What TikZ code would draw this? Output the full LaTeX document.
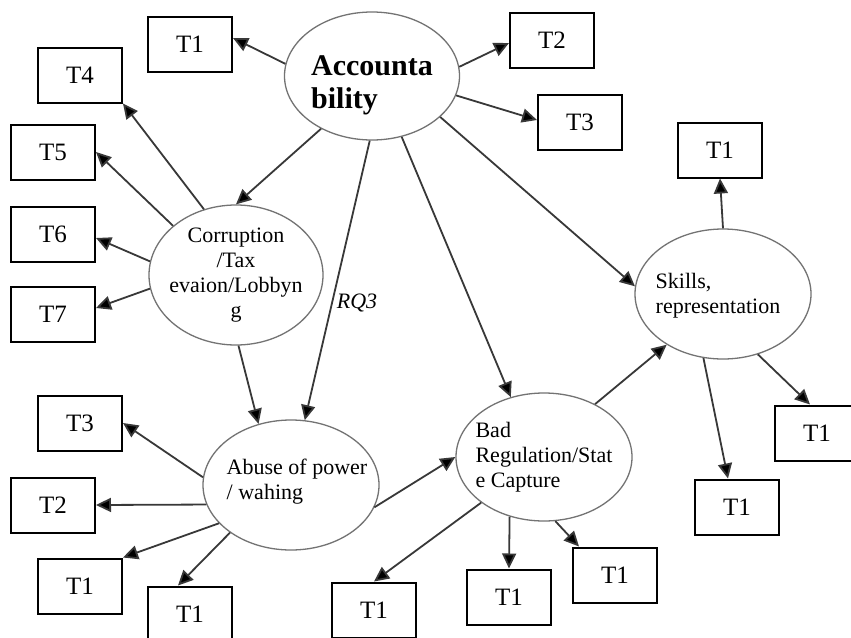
\documentclass[tikz,border=0pt]{standalone}
\usepackage{fontspec}
\setmainfont{Liberation Serif}
\usetikzlibrary{shapes.geometric,arrows.meta}
\begin{document}
\begin{tikzpicture}[x=1pt,y=-1pt,
  tbox/.style={draw=black, line width=2pt, minimum width=84pt, minimum height=55pt, inner sep=0pt, font=\fontsize{25}{28}\selectfont, fill=white},
  ell/.style={draw=black!55, line width=1.3pt, ellipse, inner sep=0pt},
  etext/.style={font=\fontsize{22}{25}\selectfont, align=left, inner sep=0pt},
  arr/.style={draw=black!78, line width=1.8pt, -{Triangle[length=15pt,width=14pt,fill=black]}}]
\useasboundingbox (0,0) rectangle (851,637);
\fill[white] (0,0) rectangle (851,637);
% ellipses
\node[ell, minimum width=175pt, minimum height=128pt,
  label={[etext, font=\fontsize{30}{33}\selectfont\bfseries, yshift=-9pt]center:{Accounta\\bility}}] (acc) at (372,76) {};
\node[ell, minimum width=174pt, minimum height=140pt,
  label={[etext, align=center]center:{Corruption\\/Tax\\evaion/Lobbyn\\g}}] (corr) at (236,275) {};
\node[ell, minimum width=176pt, minimum height=130pt,
  label={[etext, xshift=6pt, yshift=3pt]center:{Abuse of power\\/ wahing}}] (abuse) at (291,485) {};
\node[ell, minimum width=176pt, minimum height=128pt,
  label={[etext]center:{Bad\\Regulation/Stat\\e Capture}}] (bad) at (544,457) {};
\node[ell, minimum width=176pt, minimum height=130pt,
  label={[etext, xshift=-5pt, yshift=-2pt]center:{Skills,\\representation}}] (skills) at (723,294) {};
% boxes
\node[tbox] (a1) at (190,44) {T1};
\node[tbox] (a2) at (552,40) {T2};
\node[tbox] (a3) at (580,122) {T3};
\node[tbox] (s1) at (720,150) {T1};
\node[tbox] (c4) at (80,75) {T4};
\node[tbox] (c5) at (53,152) {T5};
\node[tbox] (c6) at (53,234) {T6};
\node[tbox] (c7) at (53,314) {T7};
\node[tbox] (b3) at (80,423) {T3};
\node[tbox] (b2) at (53,505) {T2};
\node[tbox] (b1) at (80,586) {T1};
\node[tbox] (b1b) at (190,614) {T1};
\node[tbox] (d1) at (374,610) {T1};
\node[tbox] (d2) at (509,597) {T1};
\node[tbox] (d3) at (615,575) {T1};
\node[tbox] (s2) at (737,507) {T1};
\node[tbox] (s3) at (817,433) {T1};
% label
\node[font=\fontsize{22}{25}\selectfont\itshape, inner sep=0pt] (rq) at (357,303) {RQ3};
% arrows from Accountability
\draw[arr] (acc.172) -- ([yshift=6pt]a1.east);
\draw[arr] (acc.6) -- ([yshift=-3pt]a2.west);
\draw[arr] (acc.347) -- ([yshift=2pt]a3.west);
\draw[arr] (acc.329) -- (skills.175);
\draw[arr] (acc.226) -- (corr.north);
\draw[arr] (acc.268) -- (abuse.78);
\draw[arr] (acc.296) -- (bad.119);
% from Corruption
\draw[arr] (corr.116) -- (c4.south east);
\draw[arr] (corr.142) -- (c5.east);
\draw[arr] (corr.171) -- ([yshift=-4pt]c6.east);
\draw[arr] (corr.189) -- ([yshift=6pt]c7.east);
\draw[arr] (corr.272) -- (abuse.118);
% from Abuse
\draw[arr] (abuse.175) -- (b3.east);
\draw[arr] (abuse.193) -- (b2.east);
\draw[arr] (abuse.208) -- (b1.north east);
\draw[arr] (abuse.218) -- ([xshift=-12pt]b1b.north);
\draw[arr] (abuse.345) -- (bad.west);
% from Bad
\draw[arr] (bad.216) -- (d1.north);
\draw[arr] (bad.240) -- (d2.north);
\draw[arr] (bad.280) -- ([xshift=7pt]d3.north west);
\draw[arr] (bad.46) -- (skills.222);
% from Skills
\draw[arr] (skills.north) -- (s1.south);
\draw[arr] (skills.253) -- ([xshift=-9pt]s2.north);
\draw[arr] (skills.300) -- ([xshift=-7pt]s3.north);
\end{tikzpicture}
\end{document}
